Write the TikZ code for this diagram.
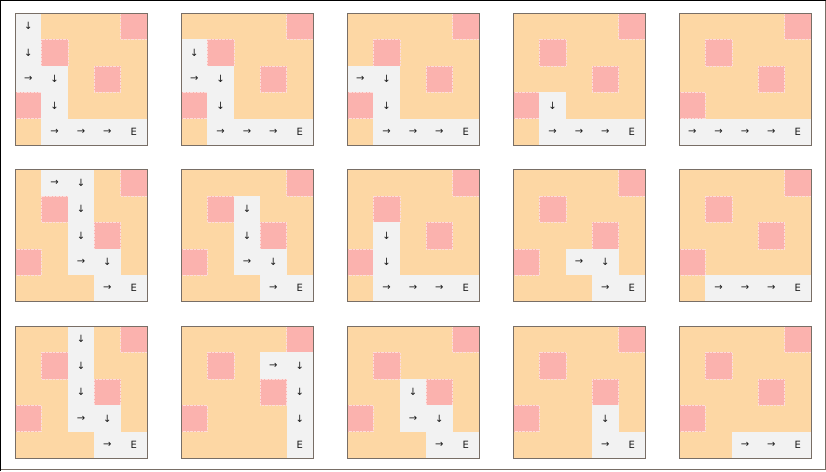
\documentclass[tikz,border=0pt]{standalone}
\usepackage{fontspec}
\setmainfont{DejaVu Sans}
\definecolor{floor}{HTML}{FDD7A4}
\definecolor{wall}{HTML}{FBB2AE}
\definecolor{route}{HTML}{F2F2F2}
\definecolor{rim}{HTML}{786E66}
\tikzset{
  routecell/.style={fill=route, minimum size=26.4pt, inner sep=0pt,
    font=\fontsize{10}{12}\selectfont, text=black!90},
  walledge/.style={draw=white!55!wall, densely dotted, line width=0.4pt},
}
% 1枚のグリッド: x, y, 名前, 経路
\newcommand\gridpanel[4]{%
  \begin{scope}[shift={(#1,#2)}]
    % 床
    \fill[floor] (0,0) rectangle (132,132);
    % 壁
    \foreach \r/\c in {0/4,1/1,2/3,3/0}
      \fill[wall] ({\c*26.4},{\r*26.4}) rectangle ++(26.4,26.4);
    \foreach \r/\c in {0/4,1/1,2/3,3/0}
      \draw[walledge] ({\c*26.4},{\r*26.4}) rectangle ++(26.4,26.4);
    % 経路
    \foreach \r/\c/\s in {#4}
      \node[routecell] (#3-\r-\c) at ({(\c+0.5)*26.4},{(\r+0.5)*26.4}) {\s};
    % 枠
    \draw[rim, line width=1pt] (0,0) rectangle (132,132);
  \end{scope}}
\begin{document}
\begin{tikzpicture}[x=1pt, y=-1pt]
  \useasboundingbox (0,0) rectangle (826,471);
  % 外枠
  \draw[black, line width=1pt] (0.5,471) -- (0.5,0.5) -- (826,0.5);
  \draw[rim, line width=1pt] (825.5,0.5) -- (825.5,469.5) -- (0.5,469.5);
  % 1段目
  \gridpanel{15}{13}{a1}{0/0/↓,1/0/↓,2/0/→,2/1/↓,3/1/↓,4/1/→,4/2/→,4/3/→,4/4/E}
  \gridpanel{181}{13}{a2}{1/0/↓,2/0/→,2/1/↓,3/1/↓,4/1/→,4/2/→,4/3/→,4/4/E}
  \gridpanel{347}{13}{a3}{2/0/→,2/1/↓,3/1/↓,4/1/→,4/2/→,4/3/→,4/4/E}
  \gridpanel{513}{13}{a4}{3/1/↓,4/1/→,4/2/→,4/3/→,4/4/E}
  \gridpanel{679}{13}{a5}{4/0/→,4/1/→,4/2/→,4/3/→,4/4/E}
  % 2段目
  \gridpanel{15}{169.5}{b1}{0/1/→,0/2/↓,1/2/↓,2/2/↓,3/2/→,3/3/↓,4/3/→,4/4/E}
  \gridpanel{181}{169.5}{b2}{1/2/↓,2/2/↓,3/2/→,3/3/↓,4/3/→,4/4/E}
  \gridpanel{347}{169.5}{b3}{2/1/↓,3/1/↓,4/1/→,4/2/→,4/3/→,4/4/E}
  \gridpanel{513}{169.5}{b4}{3/2/→,3/3/↓,4/3/→,4/4/E}
  \gridpanel{679}{169.5}{b5}{4/1/→,4/2/→,4/3/→,4/4/E}
  % 3段目
  \gridpanel{15}{326}{c1}{0/2/↓,1/2/↓,2/2/↓,3/2/→,3/3/↓,4/3/→,4/4/E}
  \gridpanel{181}{326}{c2}{1/3/→,1/4/↓,2/4/↓,3/4/↓,4/4/E}
  \gridpanel{347}{326}{c3}{2/2/↓,3/2/→,3/3/↓,4/3/→,4/4/E}
  \gridpanel{513}{326}{c4}{3/3/↓,4/3/→,4/4/E}
  \gridpanel{679}{326}{c5}{4/2/→,4/3/→,4/4/E}
\end{tikzpicture}
\end{document}
